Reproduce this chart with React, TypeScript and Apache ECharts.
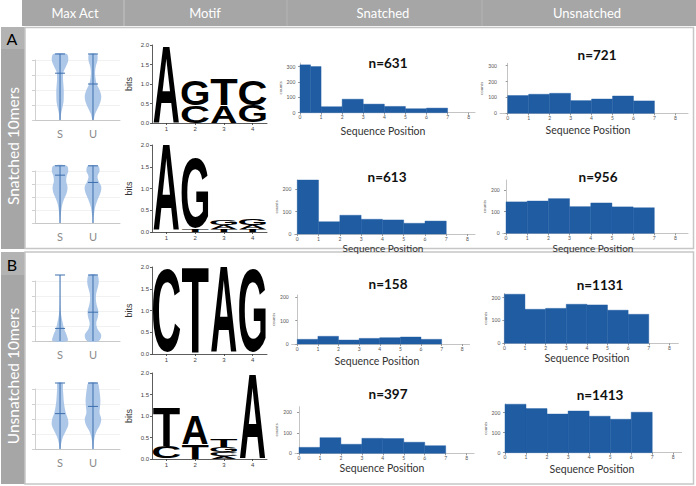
import React, { useEffect, useRef } from 'react';
import * as echarts from 'echarts';

// ---------- data ----------
const headerLabels = ['Max Act', 'Motif', 'Snatched', 'Unsnatched'];
const rowLabels = ['Snatched 10mers', 'Unsnatched 10mers'];
const panelLetters = ['A', 'B'];

// violin plots: relative half-width at each level (0 .. 1.1)
const violinLevels = [0, 0.1, 0.2, 0.3, 0.4, 0.5, 0.6, 0.7, 0.8, 0.9, 1.0, 1.1];
const violinGroups = ['S', 'U'];
const violinA1S = [0.06, 0.12, 0.28, 0.42, 0.45, 0.45, 0.4, 0.36, 0.42, 0.75, 1.0, 0.8];
const violinA1U = [0.06, 0.25, 0.6, 0.9, 1.0, 0.8, 0.45, 0.3, 0.25, 0.35, 0.55, 0.45];
const violinA2S = [0.04, 0.07, 0.12, 0.2, 0.35, 0.6, 0.85, 0.9, 0.75, 0.8, 1.0, 0.8];
const violinA2U = [0.04, 0.07, 0.15, 0.25, 0.45, 0.7, 0.95, 1.0, 0.7, 0.55, 0.8, 0.6];
const violinB1S = [0.9, 0.8, 0.5, 0.33, 0.18, 0.08, 0.04, 0.03, 0.02, 0.02, 0.02, 0.02];
const violinB1U = [0.7, 1.0, 0.55, 0.4, 0.6, 0.65, 0.45, 0.35, 0.4, 0.6, 0.7, 0.5];
const violinB2S = [0.05, 0.15, 0.35, 0.7, 1.0, 0.95, 0.7, 0.55, 0.45, 0.4, 0.35, 0.3];
const violinB2U = [0.05, 0.1, 0.2, 0.45, 0.85, 1.0, 0.8, 0.85, 0.9, 0.85, 0.75, 0.55];
const violinMedA1 = [0.78, 0.6];
const violinMedA2 = [0.92, 0.78];
const violinMedB1 = [0.21, 0.48];
const violinMedB2 = [0.59, 0.71];

// sequence logos: per position, letters stacked from bottom with heights in bits
const logoLetters = ['A', 'C', 'G', 'T'];
const logoXTicks = [1, 2, 3, 4];
const logoYTicks = [0, 0.5, 1, 1.5, 2];
const logoA1 = [[['A', 2.0]], [['C', 0.45], ['G', 0.67]], [['A', 0.45], ['T', 0.67]], [['G', 0.45], ['C', 0.67]]];
const logoA2 = [[['A', 2.0]], [['T', 0.07], ['G', 1.68]], [['T', 0.06], ['A', 0.09], ['G', 0.13]], [['T', 0.06], ['A', 0.1], ['G', 0.14]]];
const logoB1 = [[['C', 2.0]], [['T', 2.0]], [['A', 2.0]], [['G', 2.0]]];
const logoB2 = [[['C', 0.27], ['T', 0.91]], [['T', 0.35], ['A', 0.69]], [['A', 0.07], ['C', 0.09], ['G', 0.11], ['T', 0.18]], [['A', 2.0]]];

// histograms
const histXTicks = [0, 1, 2, 3, 4, 5, 6, 7, 8];
const histYTicksBig = [0, 100, 200, 300];
const histYTicks = [0, 100, 200];
const histEdgesA1S = [0, 0.5, 1, 2, 3, 4, 5, 6, 7];
const histEdges = [0, 1, 2, 3, 4, 5, 6, 7];
const histA1S = [312, 301, 39, 88, 56, 41, 26, 30];
const histA1U = [112, 120, 126, 80, 90, 109, 78];
const histA2S = [242, 55, 84, 66, 63, 48, 58];
const histA2U = [145, 149, 160, 123, 140, 122, 118];
const histB1S = [20, 33, 17, 24, 27, 30, 20];
const histB1U = [215, 149, 153, 171, 168, 145, 127];
const histB2S = [29, 76, 44, 73, 72, 54, 37];
const histB2U = [242, 220, 193, 208, 182, 167, 202];
const nLabels = ['n=631', 'n=721', 'n=613', 'n=956', 'n=158', 'n=1131', 'n=397', 'n=1413'];
const xAxisTitle = 'Sequence Position';

// ---------- styling ----------
const FONT = 'Lato, "Open Sans", sans-serif';
const GRAY = '#a6a6a6';
const BAR = '#1f5ca2';

const letterInk: Record<string, [number, number]> = {
  A: [0.72, 0.716], C: [0.65, 0.74], G: [0.69, 0.74], T: [0.6, 0.716],
};

function buildOption() {
  const grids: any[] = [];
  const xAxes: any[] = [];
  const yAxes: any[] = [];
  const series: any[] = [];

  const addGrid = (l: number, t: number, w: number, h: number) => {
    grids.push({ left: l, top: t, width: w, height: h, outerBoundsMode: 'none', containLabel: false });
    return grids.length - 1;
  };

  // violins
  const violinDefs = [
    { g: [35, 60, 85, 60], d: [violinA1S, violinA1U], m: violinMedA1 },
    { g: [35, 171, 85, 52], d: [violinA2S, violinA2U], m: violinMedA2 },
    { g: [35, 281, 85, 60], d: [violinB1S, violinB1U], m: violinMedB1 },
    { g: [35, 389, 85, 60], d: [violinB2S, violinB2U], m: violinMedB2 },
  ];
  violinDefs.forEach((v) => {
    const gi = addGrid(v.g[0], v.g[1], v.g[2], v.g[3]);
    xAxes.push({
      type: 'value', gridIndex: gi, min: 0.24, max: 2.82,
      axisLine: { show: true, lineStyle: { color: '#c8c8c8', width: 1 } },
      axisTick: { show: false }, splitLine: { show: false },
      axisLabel: { customValues: [1, 2], formatter: (x: number) => violinGroups[Math.round(x) - 1], fontSize: 11, color: '#8a8a8a', margin: 8, fontFamily: FONT },
    });
    yAxes.push({
      type: 'value', gridIndex: gi, min: 0, max: 1, interval: 0.25,
      axisLine: { show: true, lineStyle: { color: '#d0d0d0' } },
      axisTick: { show: true, length: 3, lineStyle: { color: '#d0d0d0' } },
      axisLabel: { show: false },
      splitLine: { show: true, lineStyle: { color: '#ededed', width: 0.8 } },
    });
    const dens = v.d;
    series.push({
      type: 'custom', xAxisIndex: gi, yAxisIndex: gi, clip: false,
      data: violinGroups.map((_, i) => [i + 1, v.m[i]]),
      renderItem: (params: any, api: any) => {
        const i = params.dataIndex;
        const xv = api.value(0);
        const d = dens[i];
        const hw = 0.25;
        const right = violinLevels.map((y, k) => api.coord([xv + d[k] * hw, y]));
        const left = violinLevels.map((y, k) => api.coord([xv - d[k] * hw, y])).reverse();
        const top = api.coord([xv, violinLevels[violinLevels.length - 1]]);
        const bot = api.coord([xv, 0]);
        const med = api.coord([xv, api.value(1)]);
        const ls = { stroke: '#3d6fae', lineWidth: 1 };
        return {
          type: 'group',
          children: [
            { type: 'polygon', shape: { points: [...right, ...left], smooth: 0.35 }, style: { fill: '#a3c1e5', opacity: 0.9 } },
            { type: 'line', shape: { x1: bot[0], y1: bot[1], x2: top[0], y2: top[1] }, style: ls },
            { type: 'line', shape: { x1: top[0] - 5, y1: top[1], x2: top[0] + 5, y2: top[1] }, style: ls },
            { type: 'line', shape: { x1: med[0] - 5, y1: med[1], x2: med[0] + 5, y2: med[1] }, style: ls },
          ],
        };
      },
    });
  });

  // logos
  const logoDefs = [
    { g: [152, 45, 115, 78], d: logoA1 },
    { g: [152, 145, 115, 87], d: logoA2 },
    { g: [152, 267, 115, 87], d: logoB1 },
    { g: [152, 373, 115, 86], d: logoB2 },
  ];
  logoDefs.forEach((lg) => {
    const gi = addGrid(lg.g[0], lg.g[1], lg.g[2], lg.g[3]);
    xAxes.push({
      type: 'value', gridIndex: gi, min: 0.5, max: 4.5,
      axisLine: { show: true, lineStyle: { color: '#333', width: 0.8 } },
      axisTick: { show: true, customValues: logoXTicks, length: 2, lineStyle: { color: '#333', width: 0.8 } },
      axisLabel: { customValues: logoXTicks, fontSize: 6, color: '#444', margin: 3, fontFamily: 'Liberation Sans' },
      splitLine: { show: false },
    });
    yAxes.push({
      type: 'value', gridIndex: gi, min: 0, max: 2,
      axisLine: { show: true, lineStyle: { color: '#333', width: 0.8 } },
      axisTick: { show: true, customValues: logoYTicks, length: 2, lineStyle: { color: '#333', width: 0.8 } },
      axisLabel: { customValues: logoYTicks, formatter: (x: number) => x.toFixed(1), fontSize: 6, color: '#444', margin: 3, fontFamily: 'Liberation Sans' },
      splitLine: { show: false },
      name: 'bits', nameLocation: 'middle', nameRotate: 90, nameGap: 19,
      nameTextStyle: { fontSize: 9, color: '#333', fontFamily: 'Liberation Sans' },
    });
    const items: number[][] = [];
    lg.d.forEach((stack: any[], p: number) => {
      let y = 0;
      stack.forEach(([L, h]: [string, number]) => {
        items.push([p + 1, y, y + h, logoLetters.indexOf(L)]);
        y += h;
      });
    });
    series.push({
      type: 'custom', xAxisIndex: gi, yAxisIndex: gi, clip: false,
      data: items,
      renderItem: (_p: any, api: any) => {
        const p = api.value(0), y0 = api.value(1), y1 = api.value(2);
        const L = logoLetters[api.value(3)];
        const a = api.coord([p - 0.47, y1]);
        const b = api.coord([p + 0.47, y0]);
        const w = b[0] - a[0], h = b[1] - a[1];
        const F = 100;
        return {
          type: 'text',
          x: (a[0] + b[0]) / 2, y: (a[1] + b[1]) / 2,
          scaleX: w / (letterInk[L][0] * F), scaleY: h / (letterInk[L][1] * F),
          style: {
            text: L, x: 0, y: 0, fill: '#000', fontSize: F, fontWeight: 'bold', fontFamily: 'Liberation Sans',
            align: 'center', verticalAlign: 'middle', textAlign: 'center', textVerticalAlign: 'middle',
          },
        };
      },
    });
  });

  // histograms
  const histDefs = [
    { g: [298.3, 63, 176.7, 49.7], x: [-0.08, 8.3], ymax: 324, yt: histYTicksBig, e: histEdgesA1S, c: histA1S },
    { g: [500, 63.3, 188, 50], x: [-0.367, 8.6], ymax: 315, yt: histYTicksBig, e: histEdges, c: histA1U },
    { g: [294.3, 180, 180.7, 54], x: [-0.14, 8.35], ymax: 242, yt: histYTicks, e: histEdges, c: histA2S },
    { g: [502.7, 180, 185.3, 53.3], x: [-0.156, 8.59], ymax: 246, yt: histYTicks, e: histEdges, c: histA2U },
    { g: [291.7, 295, 177.8, 49], x: [-0.27, 8.35], ymax: 210, yt: histYTicks, e: histEdges, c: histB1S },
    { g: [503.3, 293.3, 175, 50], x: [-0.05, 8.43], ymax: 219, yt: histYTicks, e: histEdges, c: histB1U },
    { g: [295, 406.7, 179, 46.6], x: [-0.19, 8.35], ymax: 227, yt: histYTicks, e: histEdges, c: histB2S },
    { g: [503.3, 404, 178.4, 48.7], x: [-0.08, 8.4], ymax: 243, yt: histYTicks, e: histEdges, c: histB2U },
  ];
  histDefs.forEach((hd) => {
    const gi = addGrid(hd.g[0], hd.g[1], hd.g[2], hd.g[3]);
    xAxes.push({
      type: 'value', gridIndex: gi, min: hd.x[0], max: hd.x[1],
      axisLine: { show: true, onZero: false, lineStyle: { color: '#c4c4c4', width: 1 } },
      axisTick: { show: true, customValues: histXTicks, length: 2, lineStyle: { color: '#999' } },
      axisLabel: { customValues: histXTicks, fontSize: 5, color: '#555', margin: 2, fontFamily: FONT },
      splitLine: { show: false },
    });
    yAxes.push({
      type: 'value', gridIndex: gi, min: 0, max: hd.ymax,
      axisLine: { show: true, lineStyle: { color: '#c4c4c4', width: 1 } },
      axisTick: { show: true, customValues: hd.yt, length: 2, lineStyle: { color: '#999' } },
      axisLabel: { customValues: hd.yt, fontSize: 5, color: '#555', margin: 3, fontFamily: FONT },
      splitLine: { show: false },
      name: 'counts', nameLocation: 'middle', nameRotate: 90, nameGap: 11,
      nameTextStyle: { fontSize: 4.5, color: '#555', fontFamily: FONT },
    });
    const data = hd.c.map((v, i) => [hd.e[i], hd.e[i + 1], v]);
    series.push({
      type: 'custom', xAxisIndex: gi, yAxisIndex: gi,
      data,
      renderItem: (_p: any, api: any) => {
        const a = api.coord([api.value(0), api.value(2)]);
        const b = api.coord([api.value(1), 0]);
        return {
          type: 'rect',
          shape: { x: a[0], y: a[1], width: b[0] - a[0], height: b[1] - a[1] },
          style: { fill: BAR, stroke: BAR, lineWidth: 0.4 },
        };
      },
    });
  });

  // decorations and text
  const txt = (x: number, y: number, text: string, size: number, fill: string, weight = 'normal', rotation = 0, family = FONT) => ({
    type: 'text', x, y, rotation,
    style: { text, fill, fontSize: size, fontWeight: weight, fontFamily: family, align: 'center', verticalAlign: 'middle' },
    z: 10,
  });
  const graphic: any[] = [
    { type: 'rect', shape: { x: 22, y: 0, width: 674, height: 26 }, style: { fill: GRAY } },
    { type: 'line', shape: { x1: 124, y1: 0, x2: 124, y2: 26 }, style: { stroke: '#c4c4c4', lineWidth: 1 } },
    { type: 'line', shape: { x1: 287, y1: 0, x2: 287, y2: 26 }, style: { stroke: '#b4b4b4', lineWidth: 1 } },
    { type: 'line', shape: { x1: 482, y1: 0, x2: 482, y2: 26 }, style: { stroke: '#b4b4b4', lineWidth: 1 } },
    txt(75, 13, headerLabels[0], 13, '#fff'),
    txt(205, 13, headerLabels[1], 13, '#fff'),
    txt(383, 13, headerLabels[2], 13, '#fff'),
    txt(587, 13, headerLabels[3], 13, '#fff'),
    // panel borders
    { type: 'rect', shape: { x: 25, y: 27.5, width: 668.5, height: 221 }, style: { fill: 'none', stroke: '#c6c6c6', lineWidth: 1.5 }, z: 5 },
    { type: 'rect', shape: { x: 25, y: 252, width: 668.5, height: 232 }, style: { fill: 'none', stroke: '#c6c6c6', lineWidth: 1.5 }, z: 5 },
    // left bars
    { type: 'rect', shape: { x: 1, y: 27, width: 24, height: 22 }, style: { fill: '#b3b3b3' } },
    { type: 'rect', shape: { x: 1, y: 49, width: 24, height: 200 }, style: { fill: GRAY } },
    { type: 'rect', shape: { x: 1, y: 252, width: 24, height: 23 }, style: { fill: '#b3b3b3' } },
    { type: 'rect', shape: { x: 1, y: 275, width: 24, height: 209 }, style: { fill: GRAY } },
    txt(12, 38, panelLetters[0], 16, '#000'),
    txt(12, 264, panelLetters[1], 16, '#000'),
    txt(13, 146, rowLabels[0], 15.5, '#fff', 'normal', Math.PI / 2),
    txt(13, 376, rowLabels[1], 15.5, '#fff', 'normal', Math.PI / 2),
    // n labels
    txt(388, 63, nLabels[0], 13.5, '#111', 'bold'),
    txt(597, 55, nLabels[1], 13.5, '#111', 'bold'),
    txt(387, 177, nLabels[2], 13.5, '#111', 'bold'),
    txt(598, 177, nLabels[3], 13.5, '#111', 'bold'),
    txt(388, 284, nLabels[4], 13.5, '#111', 'bold'),
    txt(600, 285, nLabels[5], 13.5, '#111', 'bold'),
    txt(388, 394, nLabels[6], 13.5, '#111', 'bold'),
    txt(600, 395, nLabels[7], 13.5, '#111', 'bold'),
    // axis titles
    txt(383, 131, xAxisTitle, 10.5, '#333'),
    txt(588, 130, xAxisTitle, 10.5, '#333'),
    txt(383, 247.5, xAxisTitle, 10, '#333'),
    txt(593, 247.5, xAxisTitle, 10, '#333'),
    txt(377, 361, xAxisTitle, 10.5, '#333'),
    txt(587, 358, xAxisTitle, 10.5, '#333'),
    txt(382, 468, xAxisTitle, 10.5, '#333'),
    txt(592, 469, xAxisTitle, 10.5, '#333'),
  ];

  return {
    animation: false,
    backgroundColor: '#ffffff',
    grid: grids,
    xAxis: xAxes,
    yAxis: yAxes,
    series,
    graphic: { elements: graphic },
  };
}

export default function App() {
  const ref = useRef<HTMLDivElement>(null);
  useEffect(() => {
    document.body.style.margin = '0';
    if (!ref.current) return;
    const chart = echarts.init(ref.current, undefined, { renderer: 'svg' });
    chart.setOption(buildOption() as any);
    return () => chart.dispose();
  }, []);
  return <div ref={ref} style={{ position: 'absolute', left: 0, top: 0, width: 696, height: 486 }} />;
}
